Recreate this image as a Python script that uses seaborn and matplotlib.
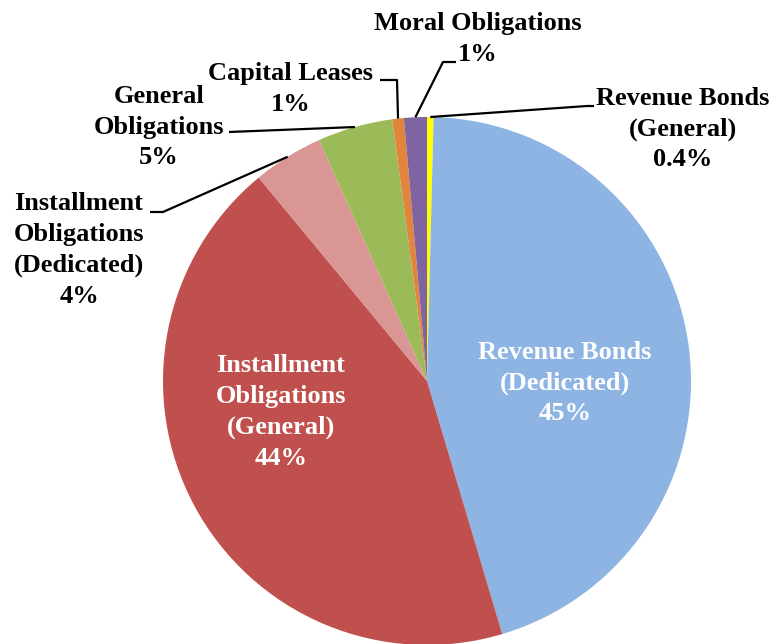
import numpy as np
import matplotlib
matplotlib.use("Agg")
import matplotlib.pyplot as plt
import seaborn as sns

# shares of debt by type, clockwise from 12 o'clock
categories = [
    "Revenue Bonds (General)",
    "Revenue Bonds (Dedicated)",
    "Installment Obligations (General)",
    "Installment Obligations (Dedicated)",
    "General Obligations",
    "Capital Leases",
    "Moral Obligations",
]
shares = [0.4, 45.0, 43.6, 4.3, 4.6, 0.7, 1.4]
label_texts = [
    "Revenue Bonds\n(General)\n0.4%",
    "Revenue Bonds\n(Dedicated)\n45%",
    "Installment\nObligations\n(General)\n44%",
    "Installment\nObligations\n(Dedicated)\n4%",
    "General\nObligations\n5%",
    "Capital Leases\n1%",
    "Moral Obligations\n1%",
]
colors = ["#FFFF00", "#8EB4E3", "#C0504D", "#D99694", "#9BBB59", "#E1853D", "#8064A2"]

sns.set_style("white")
plt.rcParams["font.family"] = ["Liberation Serif", "DejaVu Serif"]

W, H = 773, 644
fig = plt.figure(figsize=(W / 100, H / 100), dpi=100)
ax = fig.add_axes([0, 0, 1, 1])

cx, cy, R = 427, H - 381, 264
wedges, _ = ax.pie(shares, colors=colors, startangle=90, counterclock=False,
                   radius=R, center=(cx, cy),
                   wedgeprops=dict(linewidth=0, antialiased=True))
ax.set_xlim(0, W)
ax.set_ylim(0, H)
ax.set_aspect("equal")
ax.axis("off")

# label placement (pixel coords, y measured from top) and leader paths
layout = {
    0: dict(xy=(683, 129), inside=False, path=[(594, 106), (587, 106)]),
    1: dict(xy=(565, 383), inside=True),
    2: dict(xy=(281, 412), inside=True),
    3: dict(xy=(79, 250), inside=False, path=[(150, 212), (163, 212)]),
    4: dict(xy=(159, 127), inside=False, path=[(229, 132)]),
    5: dict(xy=(291, 89), inside=False, path=[(380, 80), (397, 80)]),
    6: dict(xy=(478, 39), inside=False, path=[(456, 62), (443, 62)]),
}

for i, w in enumerate(wedges):
    spec = layout[i]
    x, y = spec["xy"]
    ax.text(x, H - y, label_texts[i], ha="center", va="center",
            fontsize=19, fontweight="bold", linespacing=1.42,
            color="white" if spec["inside"] else "black")
    if not spec["inside"]:
        mid = np.deg2rad((w.theta1 + w.theta2) / 2)
        ax_pt = (cx + R * np.cos(mid), cy + R * np.sin(mid))
        xs = [p[0] for p in spec["path"]] + [ax_pt[0]]
        ys = [H - p[1] for p in spec["path"]] + [ax_pt[1]]
        ax.plot(xs, ys, color="black", lw=1.6, solid_capstyle="butt")

fig.savefig("out.png", dpi=100)
